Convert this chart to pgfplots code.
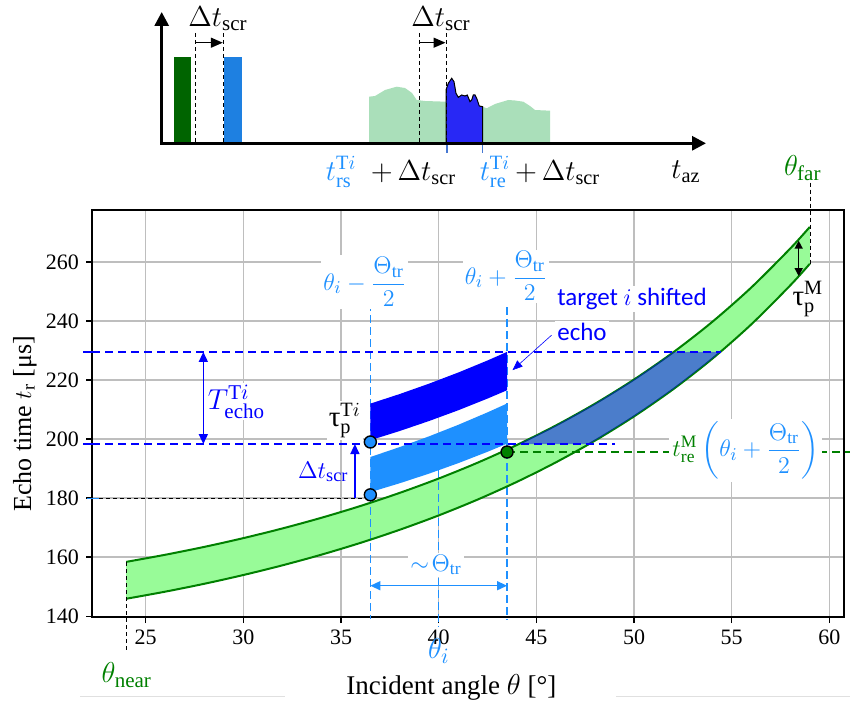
\documentclass[border=0pt]{standalone}
\usepackage{amsmath}
\usepackage{fontspec}
\setmainfont{Liberation Serif}
\newfontfamily\carlito{Carlito}
\usepackage{pgfplots}
\pgfplotsset{compat=1.18}
\usetikzlibrary{arrows.meta}
\definecolor{pgreen}{RGB}{152,251,152}
\definecolor{dgreen}{RGB}{0,128,0}
\definecolor{lblue}{RGB}{30,144,255}
\definecolor{bblue}{RGB}{0,0,255}
\definecolor{gridgray}{RGB}{190,190,190}
\definecolor{topgreen}{RGB}{0,100,0}
\definecolor{topblue}{RGB}{30,128,225}
\definecolor{mint}{RGB}{170,223,186}
\definecolor{shapeblue}{RGB}{40,40,245}
\definecolor{tickblue}{RGB}{70,120,210}
\begin{document}
\begin{tikzpicture}
\path[use as bounding box] (-46pt,-45.5pt) rectangle (379pt,308.5pt);
% ---------------- top schematic ----------------
\begin{axis}[at={(29pt,208.5pt)}, anchor=south west, scale only axis,
  width=285pt, height=100pt, xmin=150, xmax=720, ymin=-200, ymax=0,
  hide axis, clip=false]
\addplot[fill=mint, draw=none] coordinates {(369,-143.3)(369,-96.7)(375,-96)(385,-90)(396.7,-86.7)(405,-88)(412,-93)(416.7,-100)(425,-101)(446,-101.7)(460,-103)(482.7,-106.7)(486.7,-108.3)(495,-104)(508.3,-100)(515,-100.5)(523.3,-101.7)(530,-106)(535,-110)(550,-110.7)(550,-143.3)} -- cycle;
\addplot[fill=shapeblue, draw=black, line width=0.5pt] coordinates {(446,-143.3)(446,-90)(448.3,-83.3)(451.7,-78.3)(454,-81.7)(456,-93.3)(458.3,-97.3)(461.7,-95)(465,-96)(467.3,-95)(470,-101.7)(471.7,-100)(473.3,-95)(475,-95)(476.7,-98.3)(479.3,-106)(482.7,-106.7)(482.7,-143.3)} -- cycle;
\addplot[fill=topgreen, draw=none] coordinates {(174,-143.3)(174,-56.7)(190.7,-56.7)(190.7,-143.3)} -- cycle;
\addplot[fill=topblue, draw=none] coordinates {(224,-143.3)(224,-56.7)(241.7,-56.7)(241.7,-143.3)} -- cycle;
\addplot[black, line width=0.5pt, dash pattern=on 2pt off 1.5pt] coordinates {(195.7,-33)(195.7,-143.3)};
\addplot[black, line width=0.5pt, dash pattern=on 2pt off 1.5pt] coordinates {(223.3,-33)(223.3,-143.3)};
\addplot[black, line width=0.5pt, dash pattern=on 2pt off 1.5pt] coordinates {(419.3,-33)(419.3,-143.3)};
\addplot[black, line width=0.5pt, dash pattern=on 2pt off 1.5pt] coordinates {(446,-33)(446,-143.3)};
\addplot[black, line width=0.7pt, -{Triangle[length=6pt,width=5pt]}] coordinates {(195.7,-42.7)(222.8,-42.7)};
\addplot[black, line width=0.7pt, -{Triangle[length=6pt,width=5pt]}] coordinates {(419.3,-42.7)(445.5,-42.7)};
\addplot[tickblue, line width=0.8pt] coordinates {(446.7,-143.3)(446.7,-153.5)};
\addplot[tickblue, line width=0.8pt] coordinates {(482.3,-143.3)(482.3,-153.5)};
\addplot[black, line width=1.5pt, {Triangle[length=7pt,width=7pt]}-{Triangle[length=7pt,width=7pt]}] coordinates {(161.7,-12)(161.7,-143.3)(706,-143.3)};
\node[font=\fontsize{15}{17}\selectfont] at (axis cs:218,-19) {$\Delta t_{\mathrm{scr}}$};
\node[font=\fontsize{15}{17}\selectfont] at (axis cs:441,-19) {$\Delta t_{\mathrm{scr}}$};
\node[font=\fontsize{14.5}{17}\selectfont] at (axis cs:391,-172) {\textcolor{lblue}{$t^{\mathrm{T}i}_{\mathrm{rs}}$}\enspace$+\,\Delta t_{\mathrm{scr}}$};
\node[font=\fontsize{14.5}{17}\selectfont] at (axis cs:540,-172) {\textcolor{lblue}{$t^{\mathrm{T}i}_{\mathrm{re}}$}\,$+\,\Delta t_{\mathrm{scr}}$};
\node[font=\fontsize{14.5}{17}\selectfont] at (axis cs:686,-172) {$t_{\mathrm{az}}$};
\end{axis}
% ---------------- main chart ----------------
\begin{axis}[
  at={(0pt,0pt)}, anchor=south west,
  scale only axis, width=376pt, height=203.5pt,
  xmin=22.25, xmax=60.75, ymin=139.7, ymax=277.6,
  xtick={25,30,35,40,45,50,55,60},
  ytick={140,160,180,200,220,240,260},
  grid=major,
  major grid style={color=gridgray, line width=0.6pt},
  axis line style={line width=0.7pt},
  tick align=outside, xtick pos=bottom, ytick pos=left,
  major tick length=3pt,
  every tick/.style={black, line width=0.6pt},
  tick label style={font=\fontsize{11}{13}\selectfont},
  /pgf/number format/assume math mode=true,
  clip=false,
]
% green band fill
\addplot[fill=pgreen, draw=none] coordinates {
(24,158.38)(26,160.79)(28,163.46)(30,166.43)(32,169.71)(34,173.33)(36,177.33)(38,181.75)(40,186.62)(42,192.01)(44,197.98)(46,204.60)(48,211.96)(50,220.17)(52,229.35)(54,239.67)(56,251.33)(58,264.57)(59,271.87)
(59,259.37)(58,252.07)(56,238.83)(54,227.17)(52,216.85)(50,207.67)(48,199.46)(46,192.10)(44,185.48)(42,179.51)(40,174.12)(38,169.25)(36,164.83)(34,160.83)(32,157.21)(30,153.93)(28,150.96)(26,148.29)(24,145.88)} -- cycle;
% vertical light-blue dashed lines
\addplot[lblue, line width=0.6pt, dash pattern=on 4pt off 2pt] coordinates {(36.5,246.0)(36.5,139.0)};
\addplot[lblue, line width=0.6pt, dash pattern=on 4pt off 2pt] coordinates {(43.5,248.8)(43.5,139.0)};
\addplot[lblue, line width=0.6pt, dash pattern=on 4pt off 2pt] coordinates {(40,189.6)(40,136.3)};
% light blue and dark blue echo bands
\addplot[fill=lblue, draw=none] coordinates {
(36.5,182.0)(38,185.01)(39.5,188.27)(41,191.82)(42.5,195.68)(43.5,198.43)
(43.5,212.03)(42.5,209.04)(41,204.81)(39.5,200.9)(38,197.27)(36.5,193.9)} -- cycle;
\addplot[fill=bblue, draw=none] coordinates {
(36.5,199.6)(38,202.71)(39.5,206.09)(41,209.74)(42.5,213.71)(43.5,216.53)
(43.5,229.53)(42.5,226.62)(41,222.53)(39.5,218.75)(38,215.24)(36.5,212.0)} -- cycle;
% green curves
\addplot[dgreen, line width=1pt, smooth] coordinates {
(24,158.38)(26,160.79)(28,163.46)(30,166.43)(32,169.71)(34,173.33)(36,177.33)(38,181.75)(40,186.62)(42,192.01)(44,197.98)(46,204.60)(48,211.96)(50,220.17)(52,229.35)(54,239.67)(56,251.33)(58,264.57)(59,271.87)};
\addplot[dgreen, line width=1pt, smooth] coordinates {
(24,145.88)(26,148.29)(28,150.96)(30,153.93)(32,157.21)(34,160.83)(36,164.83)(38,169.25)(40,174.12)(42,179.51)(44,185.48)(46,192.10)(48,199.46)(50,207.67)(52,216.85)(54,227.17)(56,238.83)(58,252.07)(59,259.37)};
% overlay of echo window on the band
\addplot[fill=bblue, fill opacity=0.5, draw=none] coordinates {
(44.1,198.3)(46,204.6)(48,211.96)(50,220.17)(52.03,229.5)(54.42,229.5)(54,227.17)(52,216.85)(50,207.67)(48,199.46)(47.7,198.3)} -- cycle;
% horizontal dashed lines
\addplot[bblue, line width=0.7pt, dash pattern=on 4pt off 2.5pt] coordinates {(22.25,229.5)(54.45,229.5)};
\addplot[bblue, line width=0.7pt, dash pattern=on 4pt off 2.5pt] coordinates {(22.25,198.3)(49.0,198.3)};
\addplot[black, line width=0.5pt, dash pattern=on 2pt off 1.5pt] coordinates {(22.25,179.9)(36.5,179.9)};
\addplot[dgreen, line width=0.7pt, dash pattern=on 4pt off 2.5pt] coordinates {(43.5,195.6)(61.04,195.6)};
\addplot[black, line width=0.5pt, dash pattern=on 2pt off 1.5pt] coordinates {(24,158.2)(24,127.8)};
\addplot[black, line width=0.5pt, dash pattern=on 2pt off 1.5pt] coordinates {(59.03,286.9)(59.03,259.1)};
% coloured ticks on the time axis
\addplot[bblue, line width=0.8pt] coordinates {(21.79,229.5)(22.66,229.5)};
\addplot[bblue, line width=0.8pt] coordinates {(21.79,198.3)(22.66,198.3)};
\addplot[lblue, line width=0.8pt] coordinates {(21.99,179.9)(22.6,179.9)};
% arrows
\addplot[bblue, line width=0.8pt, {Triangle[length=5pt,width=4.5pt]}-{Triangle[length=5pt,width=4.5pt]}] coordinates {(27.95,229.5)(27.95,198.3)};
\addplot[bblue, line width=0.8pt, -{Triangle[length=5pt,width=4.5pt]}] coordinates {(35.71,179.9)(35.71,198.3)};
\addplot[lblue, line width=0.7pt, {Triangle[length=5pt,width=4.5pt]}-{Triangle[length=5pt,width=4.5pt]}] coordinates {(36.5,150.3)(43.5,150.3)};
\addplot[black, line width=0.7pt, {Triangle[length=4pt,width=4pt]}-{Triangle[length=4pt,width=4pt]}] coordinates {(58.43,267.2)(58.43,255.2)};
\addplot[bblue, line width=0.3pt, -{Triangle[length=5pt,width=4pt]}] coordinates {(45.78,235.2)(43.78,223.35)};
% labels
\begin{scope}[every node/.style={fill=white, inner sep=1pt}]
\node[text=lblue, font=\fontsize{13}{15}\selectfont] at (axis cs:36.22,253.2) {$\theta_i-\dfrac{\Theta_{\mathrm{tr}}}{2}$};
\node[text=lblue, font=\fontsize{13}{15}\selectfont] at (axis cs:43.45,255.2) {$\theta_i+\dfrac{\Theta_{\mathrm{tr}}}{2}$};
\node[text=bblue, font=\carlito\fontsize{12.5}{14}\selectfont, anchor=west] at (axis cs:45.95,247.4) {target $i$ shifted};
\node[text=bblue, font=\carlito\fontsize{12.5}{14}\selectfont, anchor=west] at (axis cs:45.95,236.3) {echo};
\node[text=bblue, font=\fontsize{15}{17}\selectfont] at (axis cs:29.65,212.7) {$T^{\mathrm{T}i}_{\mathrm{echo}}$};
\node[text=black, font=\fontsize{14.5}{17}\selectfont] at (axis cs:35.19,206.3) {τ$^{\mathrm{T}i}_{\mathrm{p}}$};
\node[text=lblue, font=\fontsize{12.5}{15}\selectfont] at (axis cs:39.86,157.3) {$\sim\!\Theta_{\mathrm{tr}}$};
\node[font=\fontsize{12.5}{15}\selectfont, inner sep=1.5pt] at (axis cs:55.72,196.1) {\textcolor{dgreen}{$t^{\mathrm{M}}_{\mathrm{re}}$}\,\textcolor{lblue}{$\left(\theta_i+\dfrac{\Theta_{\mathrm{tr}}}{2}\right)$}};
\end{scope}
\node[text=bblue, font=\fontsize{13}{15}\selectfont, anchor=east, inner sep=1pt] at (axis cs:35.5,188.9) {$\Delta t_{\mathrm{scr}}$};
\node[text=black, font=\fontsize{14.5}{17}\selectfont] at (axis cs:58.9,247.4) {τ$^{\mathrm{M}}_{\mathrm{p}}$};
\node[text=lblue, font=\fontsize{15}{17}\selectfont] at (axis cs:40.01,128.1) {$\theta_i$};
\node[text=dgreen, font=\fontsize{15}{17}\selectfont] at (axis cs:24.03,120.0) {$\theta_{\mathrm{near}}$};
\node[text=dgreen, font=\fontsize{15}{17}\selectfont] at (axis cs:58.64,291.9) {$\theta_{\mathrm{far}}$};
% points
\addplot[only marks, mark=*, mark size=3pt, mark options={fill=lblue, draw=black, line width=0.7pt}] coordinates {(36.5,181.1)(36.5,199.0)};
\addplot[only marks, mark=*, mark size=3pt, mark options={fill=dgreen, draw=black, line width=0.7pt}] coordinates {(43.5,195.6)};
% faint rules
\addplot[black!12, line width=0.5pt] coordinates {(21.64,112.9)(32.13,112.9)};
\addplot[black!12, line width=0.5pt] coordinates {(49.1,112.9)(61.04,112.9)};
% axis labels
\node[font=\fontsize{13.5}{16}\selectfont, anchor=base] at (axis cs:40.65,113.4) {Incident angle $\theta$ [°]};
\node[font=\fontsize{13}{16}\selectfont, rotate=90] at (axis cs:18.81,205.2) {Echo time $t_{\mathrm{r}}$ [μs]};
\end{axis}
\end{tikzpicture}
\end{document}
